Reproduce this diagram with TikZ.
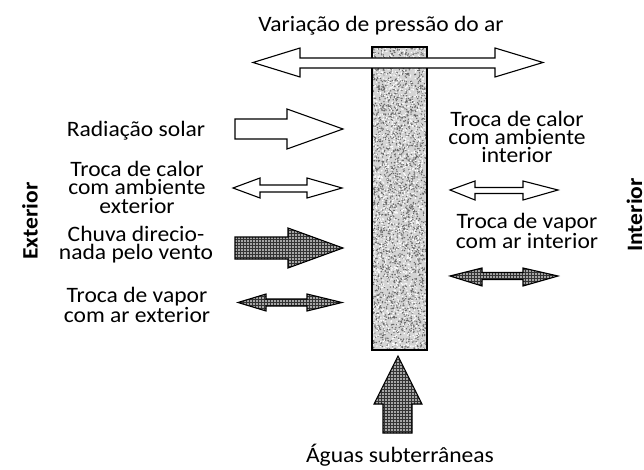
\documentclass[tikz,border=0pt]{standalone}
\usepackage{fontspec}
\setmainfont{Carlito}[FakeStretch=1.07]
\usetikzlibrary{patterns}
\begin{document}
\begin{tikzpicture}[x=1pt,y=-1pt,
  lbl/.style={font=\fontsize{22}{18}\selectfont, align=center, inner sep=0pt, anchor=base},
  side/.style={font=\fontsize{22}{18}\selectfont\bfseries, inner sep=0pt, rotate=90},
  whitearrow/.style={draw=black, line width=1.1pt, fill=white, line join=miter},
  patarrow/.style={draw=black, line width=1.1pt, line join=miter, preaction={fill=black!35}, pattern=grid, pattern color=black!80}]
\useasboundingbox (0,0) rectangle (644,470);
% wall
\fill[gray!34] (372,47) rectangle (427,350);
\pgfmathsetseed{11}
\foreach \i in {1,...,2600}{
  \pgfmathsetmacro\xx{373+53*rnd}
  \pgfmathsetmacro\yy{48+301*rnd}
  \fill[black!60] (\xx,\yy) circle (0.75);
}
\foreach \i in {1,...,1400}{
  \pgfmathsetmacro\xx{373+53*rnd}
  \pgfmathsetmacro\yy{48+301*rnd}
  \fill[white] (\xx,\yy) circle (0.8);
}
\draw[line width=1.4pt] (372,47) rectangle (427,350);
% top double arrow
\path[whitearrow] (253,62.5) -- (300,48) -- (300,58) -- (495,58) -- (495,48) -- (543,62.5) -- (495,77) -- (495,68) -- (300,68) -- (300,77) -- cycle;
% left side
\path[whitearrow] (235,119) -- (287,119) -- (287,109) -- (343,129) -- (287,149) -- (287,139) -- (235,139) -- cycle;
\path[whitearrow] (233,188) -- (260,178) -- (260,185) -- (307,185) -- (307,178) -- (342,188) -- (307,198) -- (307,192) -- (260,192) -- (260,198) -- cycle;
\path[patarrow] (235,237) -- (288,237) -- (288,228) -- (343,248) -- (288,268) -- (288,259) -- (235,259) -- cycle;
\path[patarrow] (238,302.5) -- (266,294) -- (266,299) -- (307,299) -- (307,294) -- (342,302.5) -- (307,311) -- (307,306) -- (266,306) -- (266,311) -- cycle;
% right side
\path[whitearrow] (450,190) -- (475,181) -- (475,187.5) -- (523,187.5) -- (523,181) -- (558,190) -- (523,200) -- (523,193.5) -- (475,193.5) -- (475,200) -- cycle;
\path[patarrow] (450,276) -- (482,268) -- (482,272.5) -- (523,272.5) -- (523,268) -- (558,276) -- (523,286) -- (523,279.5) -- (482,279.5) -- (482,286) -- cycle;
% bottom arrow
\path[patarrow] (398,356) -- (422,404) -- (412,404) -- (412,433) -- (383,433) -- (383,404) -- (374,404) -- cycle;
% labels (base = baseline of the last line)
\node[lbl] (var) at (381,32) {Variação de pressão do ar};
\node[lbl] (rad) at (136,137) {Radiação solar};
\node[lbl] (calext) at (137,213) {Troca de calor\\com ambiente\\exterior};
\node[lbl] (chuva) at (136,259) {Chuva direcio-\\nada pelo vento};
\node[lbl] (vapext) at (137,322) {Troca de vapor\\com ar exterior};
\node[lbl] (calint) at (517,163) {Troca de calor\\com ambiente\\interior};
\node[lbl] (vapint) at (527,248) {Troca de vapor\\com ar interior};
\node[lbl] (aguas) at (400,462) {Águas subterrâneas};
\node[side] (ext) at (30,221) {Exterior};
\node[side] (int) at (634.5,215) {Interior};
\end{tikzpicture}
\end{document}
